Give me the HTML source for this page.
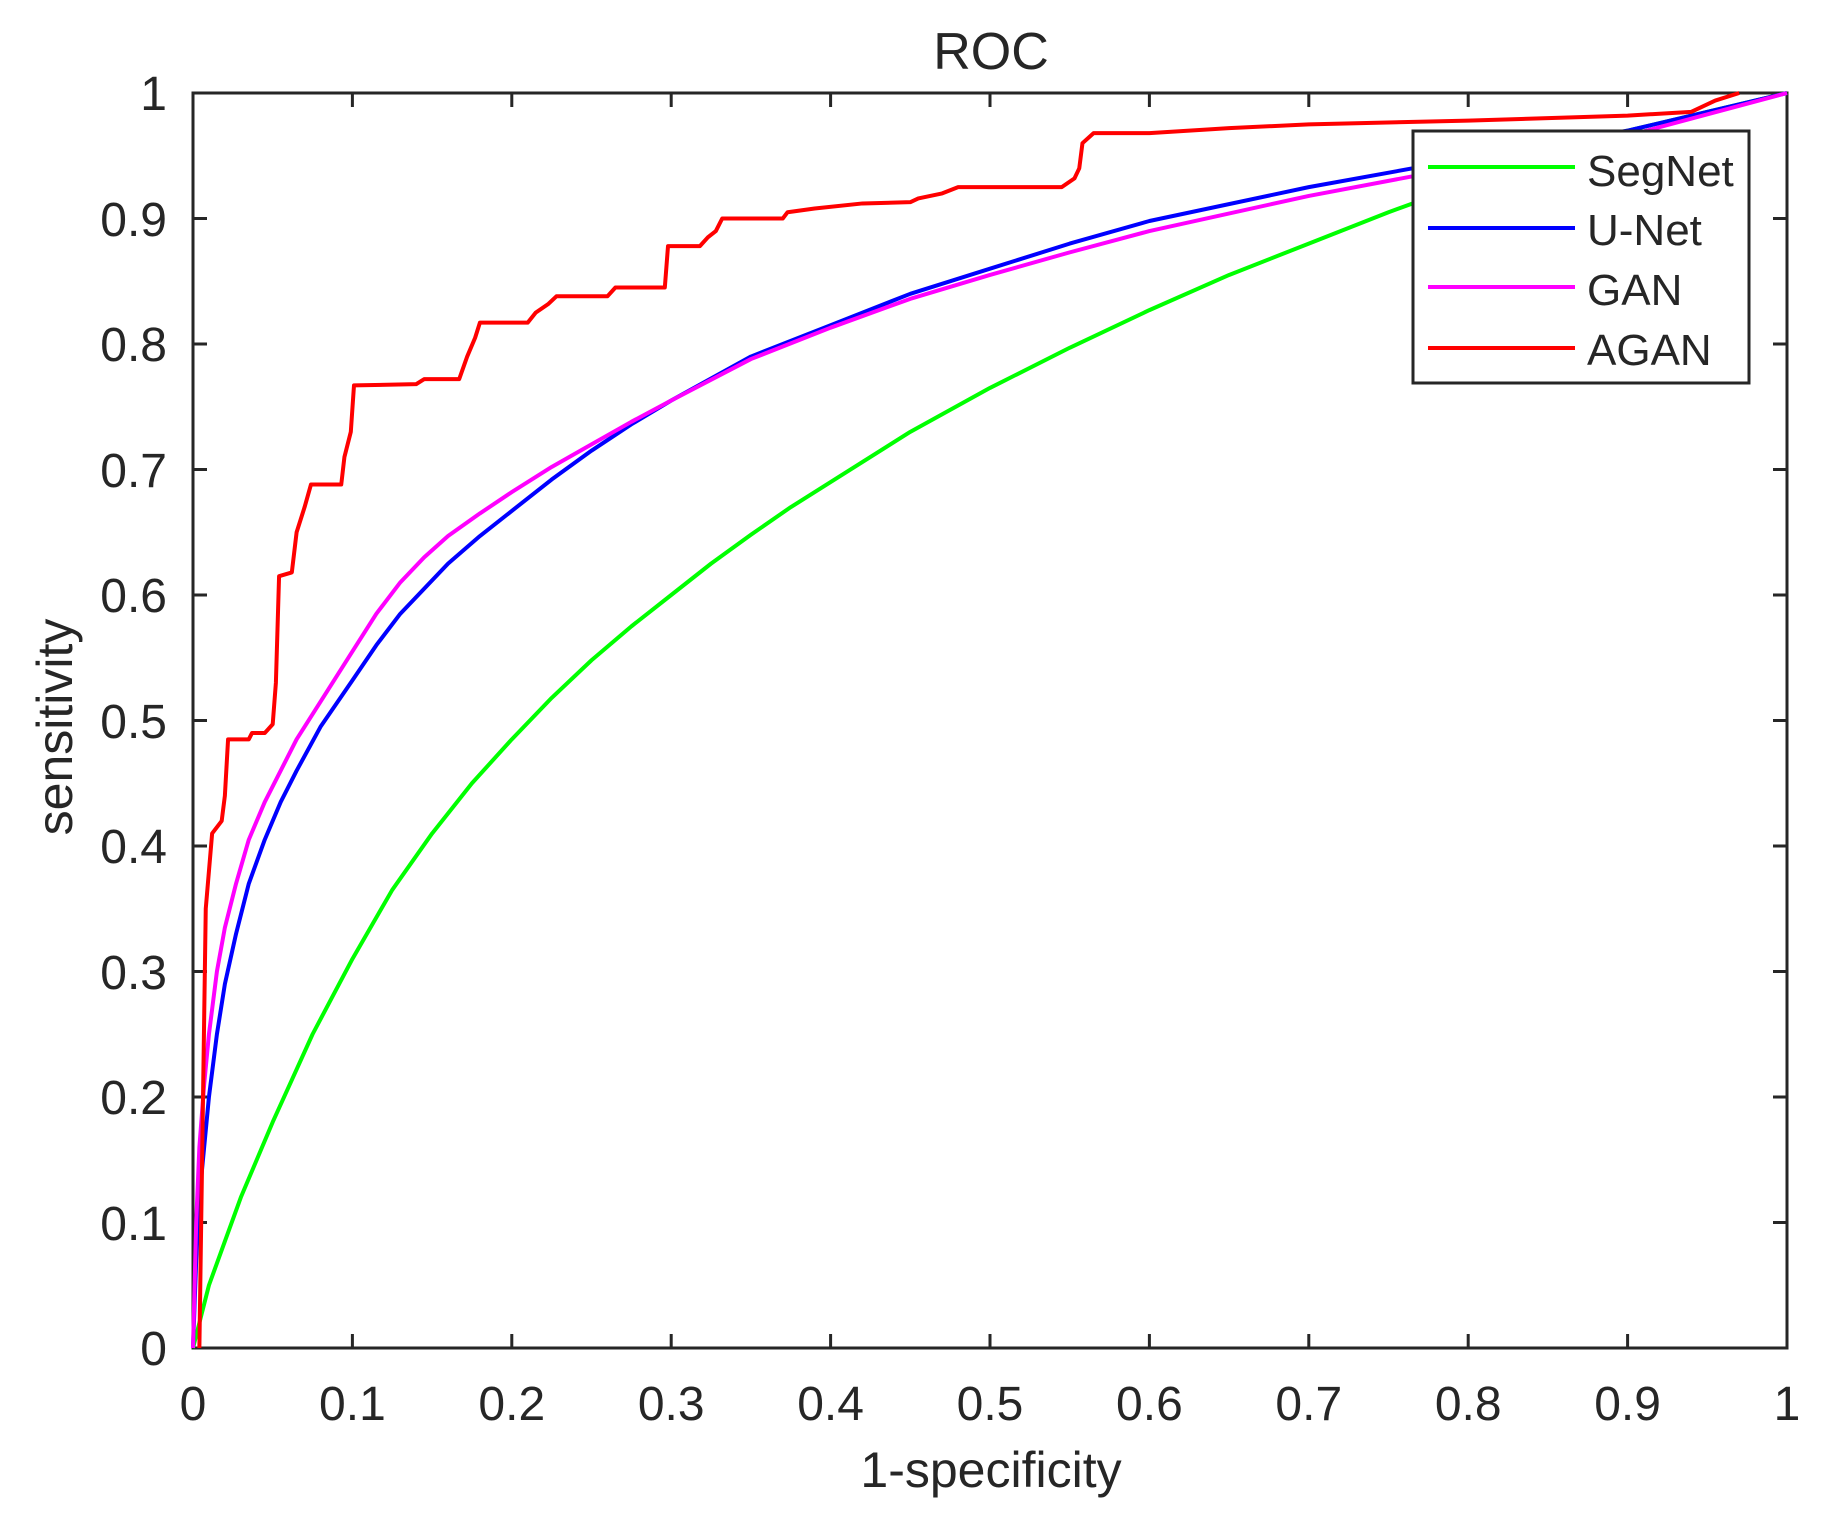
<!DOCTYPE html>
<html><head><meta charset="utf-8"><style>
html,body{margin:0;padding:0;background:#fff;}
svg text{font-family:"Liberation Sans",Arial,sans-serif;fill:#262626;}
</style></head><body>
<svg width="1829" height="1528" viewBox="0 0 1829 1528" xmlns="http://www.w3.org/2000/svg">
<rect width="1829" height="1528" fill="#fff"/>
<g stroke="#262626" stroke-width="3" fill="none">
<rect x="193" y="93" width="1594" height="1255"/>
<path d="M352.4,1348v-14M511.8,1348v-14M671.2,1348v-14M830.6,1348v-14M990,1348v-14M1149.4,1348v-14M1308.8,1348v-14M1468.2,1348v-14M1627.6,1348v-14
M352.4,93v14M511.8,93v14M671.2,93v14M830.6,93v14M990,93v14M1149.4,93v14M1308.8,93v14M1468.2,93v14M1627.6,93v14
M193,1222.5h14M193,1097h14M193,971.5h14M193,846h14M193,720.5h14M193,595h14M193,469.5h14M193,344h14M193,218.5h14
M1787,1222.5h-14M1787,1097h-14M1787,971.5h-14M1787,846h-14M1787,720.5h-14M1787,595h-14M1787,469.5h-14M1787,344h-14M1787,218.5h-14"/>
</g>
<g transform="translate(193,1348) scale(1594,-1255)" fill="none" stroke-width="4" stroke-linejoin="round">
<polyline vector-effect="non-scaling-stroke" stroke="#00ff00" points="0,0 0.005,0.025 0.01,0.05 0.02,0.085 0.03,0.12 0.04,0.15 0.05,0.18 0.0625,0.215 0.075,0.25 0.0875,0.28 0.1,0.31 0.125,0.365 0.15,0.41 0.175,0.45 0.2,0.485 0.225,0.518 0.25,0.548 0.275,0.575 0.3,0.6 0.325,0.625 0.35,0.648 0.375,0.67 0.4,0.69 0.45,0.73 0.5,0.765 0.55,0.797 0.6,0.827 0.65,0.855 0.7,0.88 0.75,0.905 0.8,0.928 0.85,0.95 0.9,0.97 0.95,0.985 1,1"/>
<polyline vector-effect="non-scaling-stroke" stroke="#0000ff" points="0,0 0.002,0.07 0.004,0.12 0.007,0.16 0.01,0.2 0.015,0.25 0.02,0.29 0.027,0.33 0.035,0.37 0.045,0.405 0.055,0.435 0.065,0.46 0.08,0.495 0.1,0.532 0.115,0.56 0.13,0.585 0.145,0.605 0.16,0.625 0.18,0.647 0.2,0.667 0.225,0.692 0.25,0.715 0.275,0.736 0.3,0.755 0.35,0.79 0.4,0.815 0.45,0.84 0.5,0.86 0.55,0.88 0.6,0.898 0.7,0.925 0.8,0.948 0.9,0.97 1,1"/>
<polyline vector-effect="non-scaling-stroke" stroke="#ff00ff" points="0,0 0.002,0.1 0.004,0.16 0.007,0.21 0.01,0.25 0.015,0.3 0.02,0.335 0.027,0.37 0.035,0.405 0.045,0.435 0.055,0.46 0.065,0.485 0.08,0.515 0.1,0.555 0.115,0.585 0.13,0.61 0.145,0.63 0.16,0.647 0.18,0.665 0.2,0.682 0.225,0.702 0.25,0.72 0.275,0.738 0.3,0.755 0.35,0.788 0.4,0.813 0.45,0.836 0.5,0.855 0.55,0.873 0.6,0.89 0.7,0.918 0.8,0.942 0.9,0.966 1,1"/>
<polyline vector-effect="non-scaling-stroke" stroke="#ff0000" points="0.004,0 0.008,0.35 0.012,0.41 0.018,0.42 0.02,0.44 0.022,0.485 0.035,0.485 0.037,0.49 0.045,0.49 0.05,0.497 0.052,0.53 0.054,0.615 0.062,0.618 0.065,0.65 0.07,0.67 0.074,0.688 0.093,0.688 0.095,0.71 0.099,0.73 0.101,0.767 0.14,0.768 0.145,0.772 0.167,0.772 0.172,0.79 0.177,0.805 0.18,0.817 0.21,0.817 0.215,0.825 0.223,0.832 0.228,0.838 0.26,0.838 0.265,0.845 0.296,0.845 0.298,0.878 0.318,0.878 0.323,0.885 0.328,0.89 0.332,0.9 0.37,0.9 0.373,0.905 0.39,0.908 0.42,0.912 0.45,0.913 0.455,0.916 0.47,0.92 0.48,0.925 0.545,0.925 0.553,0.932 0.556,0.94 0.558,0.96 0.565,0.968 0.6,0.968 0.65,0.972 0.7,0.975 0.8,0.978 0.9,0.982 0.94,0.985 0.955,0.994 0.97,1"/>
</g>
<rect x="1413" y="131" width="336" height="252" fill="#fff" stroke="#262626" stroke-width="3"/>
<g stroke-width="4">
<line x1="1428" y1="167" x2="1575" y2="167" stroke="#00ff00"/>
<line x1="1428" y1="228" x2="1575" y2="228" stroke="#0000ff"/>
<line x1="1428" y1="287" x2="1575" y2="287" stroke="#ff00ff"/>
<line x1="1428" y1="348" x2="1575" y2="348" stroke="#ff0000"/>
</g>
<g font-size="44">
<text x="1587" y="186">SegNet</text>
<text x="1587" y="245">U-Net</text>
<text x="1587" y="305">GAN</text>
<text x="1587" y="365">AGAN</text>
</g>
<g font-size="48" text-anchor="end">
<text x="167" y="1365">0</text>
<text x="167" y="1240">0.1</text>
<text x="167" y="1114">0.2</text>
<text x="167" y="989">0.3</text>
<text x="167" y="863">0.4</text>
<text x="167" y="738">0.5</text>
<text x="167" y="612">0.6</text>
<text x="167" y="487">0.7</text>
<text x="167" y="361">0.8</text>
<text x="167" y="236">0.9</text>
<text x="167" y="110">1</text>
</g>
<g font-size="48" text-anchor="middle">
<text x="193" y="1420">0</text>
<text x="352.4" y="1420">0.1</text>
<text x="511.8" y="1420">0.2</text>
<text x="671.2" y="1420">0.3</text>
<text x="830.6" y="1420">0.4</text>
<text x="990" y="1420">0.5</text>
<text x="1149.4" y="1420">0.6</text>
<text x="1308.8" y="1420">0.7</text>
<text x="1468.2" y="1420">0.8</text>
<text x="1627.6" y="1420">0.9</text>
<text x="1787" y="1420">1</text>
</g>
<text x="991" y="69" font-size="52" text-anchor="middle">ROC</text>
<text x="991" y="1487" font-size="50" text-anchor="middle">1-specificity</text>
<text transform="translate(72,727) rotate(-90)" font-size="50" text-anchor="middle">sensitivity</text>
</svg>
</body></html>
